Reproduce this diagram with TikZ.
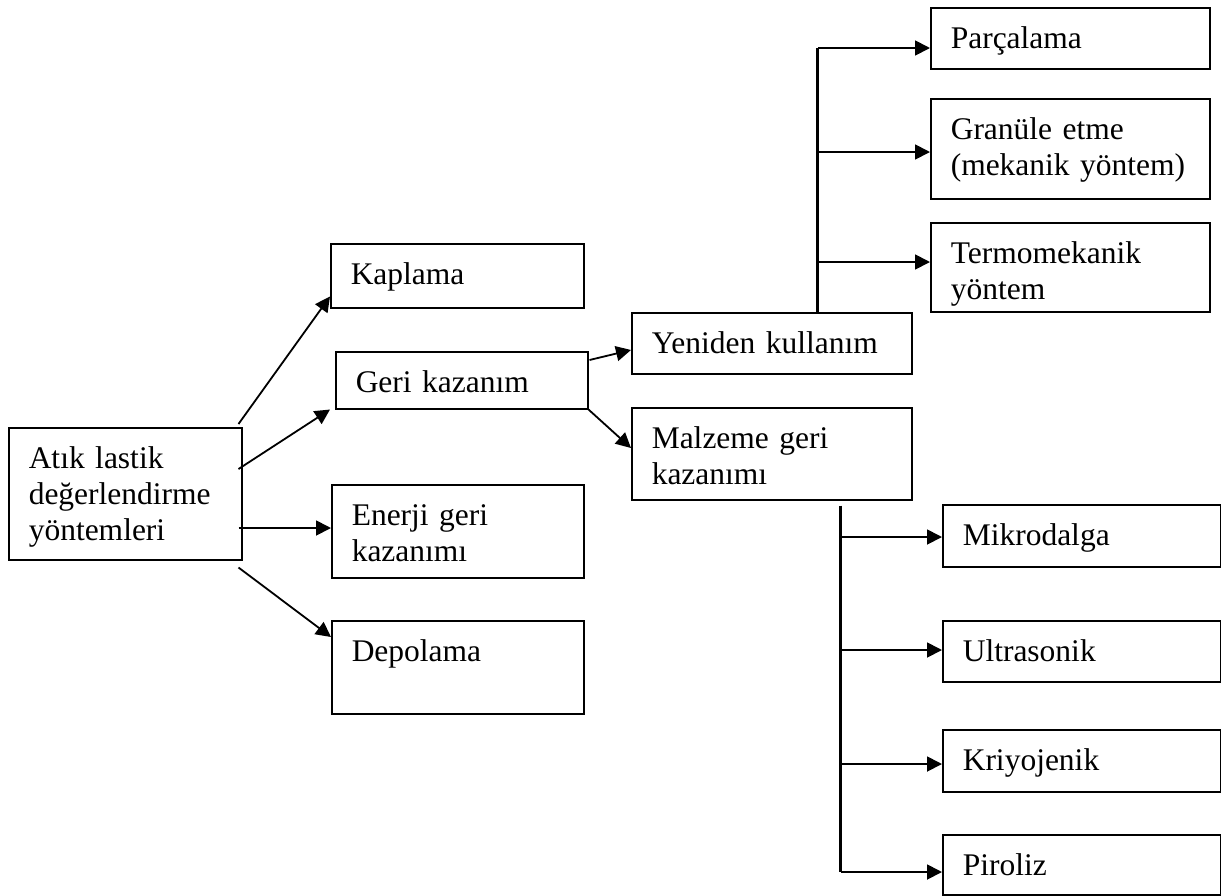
\documentclass[tikz,border=0pt]{standalone}
\usepackage{fontspec}
\setmainfont{Liberation Serif}
\usepackage{tikz}
\usetikzlibrary{arrows.meta}

\tikzset{
  box/.style={draw, line width=1.5pt, anchor=north west, inner xsep=20pt, inner ysep=0pt,
    align=left, text height=40.5pt, font=\fontsize{31.5}{36}\selectfont},
  arr/.style={-{Triangle[length=15pt,width=15pt]}, line width=1.8pt},
  trunk/.style={line width=3pt}
}

\begin{document}
\begin{tikzpicture}[x=1pt,y=-1pt]
                \useasboundingbox (0,0) rectangle (1221,895);
                % first level
                \node[box, text width=193pt, text depth=91.5pt] (atik) at (8,427) {Atık lastik\\değerlendirme\\yöntemleri};
                \node[box, text width=213pt, text depth=23.5pt] (kaplama) at (330,243) {Kaplama};
                \node[box, text width=212pt, text depth=16.5pt] (geri) at (335,351) {Geri kazanım};
                \node[box, text width=212pt, text depth=52.5pt] (enerji) at (331,484) {Enerji geri\\kazanımı};
                \node[box, text width=212pt, text depth=52.5pt] (depolama) at (331,620) {Depolama};
                % second level
                \node[box, text width=240pt, text depth=20.5pt] (yeniden) at (631,312) {Yeniden kullanım};
                \node[box, text width=240pt, text depth=51.5pt] (malzeme) at (631,407) {Malzeme geri\\kazanımı};
                % reuse methods
                \node[box, text width=239pt, text depth=20.5pt] (parcalama) at (930,7) {Parçalama};
                \node[box, text width=239pt, text depth=59.5pt] (granule) at (930,98) {Granüle etme\\(mekanik yöntem)};
                \node[box, text width=239pt, text depth=48.5pt] (termo) at (930,222) {Termomekanik\\yöntem};
                % material recovery methods
                \node[box, text width=238pt, text depth=21.5pt] (mikro) at (942,504) {Mikrodalga};
                \node[box, text width=238pt, text depth=20.5pt] (ultra) at (942,620) {Ultrasonik};
                \node[box, text width=238pt, text depth=21.5pt] (kriyo) at (942,729) {Kriyojenik};
                \node[box, text width=238pt, text depth=19.5pt] (piroliz) at (942,834) {Piroliz};

                % arrows from the main box
                \coordinate (a1) at ([shift={(-4,-3)}]atik.north east);
                \coordinate (a2) at ([shift={(-4,42)}]atik.north east);
                \coordinate (a3) at ([shift={(-4,101)}]atik.north east);
                \coordinate (a4) at ([shift={(-4,7)}]atik.south east);
                \draw[arr] (a1) -- ([shift={(0,-12)}]kaplama.south west);
                \draw[arr] (a2) -- ([shift={(-5,0)}]geri.south west);
                \draw[arr] (a3) -- (a3 -| enerji.west);
                \draw[arr] (a4) -- ([shift={(0,17)}]depolama.north west);

                % geri kazanim
                \draw[arr] ([shift={(1,9)}]geri.north east) -- ([shift={(0,38)}]yeniden.north west);
                \draw[arr] (geri.south east) -- ([shift={(0,41)}]malzeme.north west);

                % yeniden kullanim branches
                \coordinate (ytop) at ([shift={(46,0)}]yeniden.north);
                \coordinate (p1) at ([shift={(0,41)}]parcalama.north west);
                \coordinate (p2) at ([shift={(0,54)}]granule.north west);
                \coordinate (p3) at ([shift={(0,40)}]termo.north west);
                \draw[trunk] (ytop) -- (ytop |- p1);
                \draw[arr] (ytop |- p1) -- (p1);
                \draw[arr] (ytop |- p2) -- (p2);
                \draw[arr] (ytop |- p3) -- (p3);

                % malzeme geri kazanimi branches
                \coordinate (mtop) at ([shift={(69,5)}]malzeme.south);
                \coordinate (m1) at ([shift={(0,33)}]mikro.north west);
                \coordinate (m2) at ([shift={(0,30)}]ultra.north west);
                \coordinate (m3) at ([shift={(0,35)}]kriyo.north west);
                \coordinate (m4) at ([shift={(0,38)}]piroliz.north west);
                \draw[trunk] (mtop) -- (mtop |- m4);
                \draw[arr] (mtop |- m1) -- (m1);
                \draw[arr] (mtop |- m2) -- (m2);
                \draw[arr] (mtop |- m3) -- (m3);
                \draw[arr] (mtop |- m4) -- (m4);
            \end{tikzpicture}
\end{document}
